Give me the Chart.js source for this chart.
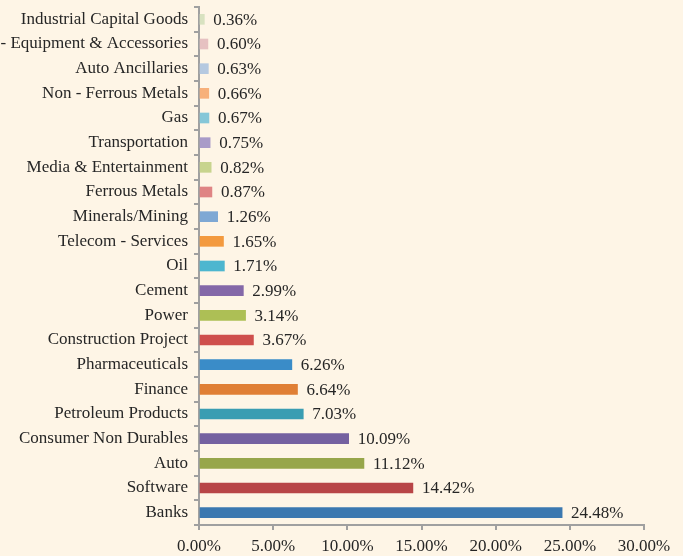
<!DOCTYPE html>
<html>
<head>
<meta charset="utf-8">
<script src="https://cdn.jsdelivr.net/npm/chart.js@4"></script>
<style>
  html, body { margin: 0; padding: 0; background: #fef5e6; }
  #wrap { width: 683px; height: 556px; }
</style>
</head>
<body>
<div id="wrap"><canvas id="grafico" width="683" height="556"></canvas></div>
<script>
const categorias = [
    "Industrial Capital Goods",
    "Telecom - Equipment & Accessories",
    "Auto Ancillaries",
    "Non - Ferrous Metals",
    "Gas",
    "Transportation",
    "Media & Entertainment",
    "Ferrous Metals",
    "Minerals/Mining",
    "Telecom - Services",
    "Oil",
    "Cement",
    "Power",
    "Construction Project",
    "Pharmaceuticals",
    "Finance",
    "Petroleum Products",
    "Consumer Non Durables",
    "Auto",
    "Software",
    "Banks",
];
const pesos = [
    0.36, 0.60, 0.63, 0.66, 0.67, 0.75, 0.82, 0.87, 1.26, 1.65, 1.71,
    2.99, 3.14, 3.67, 6.26, 6.64, 7.03, 10.09, 11.12, 14.42, 24.48,
];
const cores = [
    "#d8e2c0", "#e6c1c1", "#b5c9e0", "#f7b07a", "#86c7d8", "#a99bc8",
    "#c8d48e", "#df8484", "#7ea8d4", "#f39a3f", "#4db6cf", "#8468a8",
    "#adbf55", "#cf4f4d", "#3a8cc8", "#e07f35", "#3a9db2", "#7561a0",
    "#97a64a", "#b84547", "#3b78b0",
];
const ticksX = [0, 5, 10, 15, 20, 25, 30];

const corEixo = "#a0a0a0";
const corTexto = "#262626";
const fonte = "'Liberation Serif', 'DejaVu Serif', serif";

const rotulosValor = {
    id: "rotulosValor",
    afterDatasetsDraw(chart) {
        const ctx = chart.ctx;
        const meta = chart.getDatasetMeta(0);
        ctx.save();
        ctx.font = "17px " + fonte;
        ctx.fillStyle = corTexto;
        ctx.textAlign = "left";
        ctx.textBaseline = "middle";
        meta.data.forEach((bar, i) => {
            ctx.fillText(pesos[i].toFixed(2) + "%", bar.x + 9, bar.y + 1);
        });
        ctx.restore();
    },
};

new Chart(document.getElementById("grafico"), {
    type: "bar",
    data: {
        labels: categorias,
        datasets: [
            {
                data: pesos,
                backgroundColor: cores,
                barThickness: 10,
            },
        ],
    },
    options: {
        indexAxis: "y",
        responsive: false,
        animation: false,
        layout: { padding: { top: 7, right: 39, left: 0, bottom: 0 } },
        plugins: {
            legend: { display: false },
            tooltip: { enabled: false },
        },
        scales: {
            x: {
                min: 0,
                max: 30,
                afterBuildTicks(axis) {
                    axis.ticks = ticksX.map((v) => ({ value: v }));
                },
                afterFit(axis) {
                    axis.height = 31;
                    axis.paddingLeft = 0;
                    axis.paddingRight = 0;
                },
                border: { color: corEixo, width: 2 },
                grid: {
                    drawOnChartArea: false,
                    color: corEixo,
                    lineWidth: 2,
                    tickLength: 5,
                },
                ticks: {
                    font: { family: fonte, size: 17 },
                    color: corTexto,
                    padding: 6,
                    maxRotation: 0,
                    callback: (v) => v.toFixed(2) + "%",
                },
            },
            y: {
                afterFit(axis) {
                    axis.width = 199;
                    axis.paddingTop = 0;
                    axis.paddingBottom = 0;
                },
                border: { color: corEixo, width: 2 },
                grid: {
                    drawOnChartArea: false,
                    offset: true,
                    color: corEixo,
                    lineWidth: 2,
                    tickLength: 5,
                },
                ticks: {
                    font: { family: fonte, size: 17 },
                    color: corTexto,
                    padding: 6,
                    autoSkip: false,
                },
            },
        },
    },
    plugins: [rotulosValor],
});
</script>
</body>
</html>
